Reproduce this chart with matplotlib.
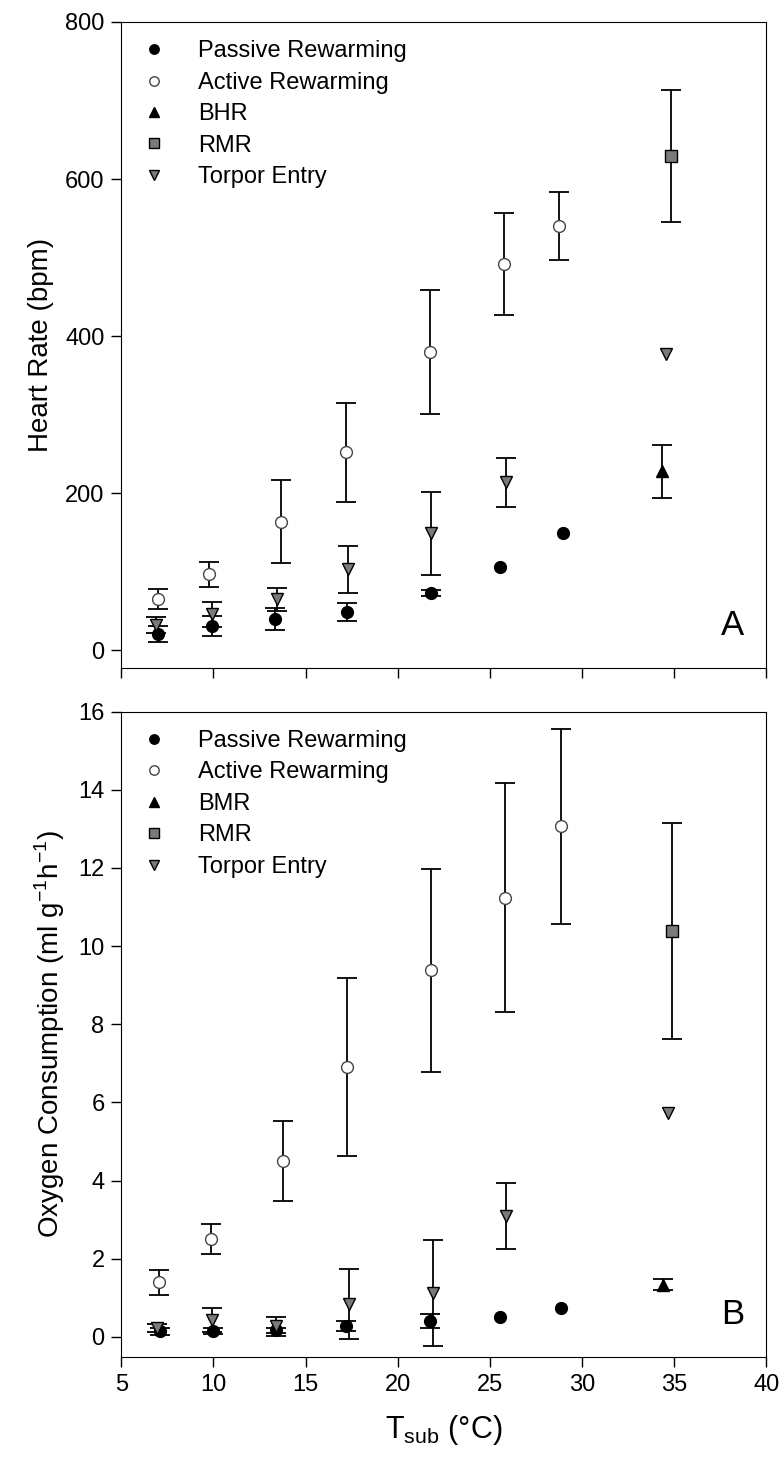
import matplotlib
matplotlib.use("Agg")
import matplotlib.pyplot as plt

plt.rcParams['font.family'] = ['Liberation Sans', 'DejaVu Sans']

# ── panel A: heart rate (bpm) ────────────────────────────────────────────────
hr_passive_x = [7.0, 9.95, 13.36, 17.23, 21.8, 25.57, 28.96]
hr_passive_y = [21, 31, 40, 49, 73.5, 106.6, 150]
hr_passive_e = [10, 13, 14, 11, 4, 0, 0]

hr_active_x = [7.0, 9.78, 13.67, 17.18, 21.73, 25.76, 28.75]
hr_active_y = [65, 97, 164, 252, 380, 492, 540]
hr_active_e = [12.7, 16, 53, 63, 79, 65, 43]

hr_bhr_x, hr_bhr_y, hr_bhr_e = [34.33], [228], [34]
hr_rmr_x, hr_rmr_y, hr_rmr_e = [34.8], [629], [84]

hr_torpor_x = [6.88, 9.95, 13.44, 17.3, 21.8, 25.85, 34.57]
hr_torpor_y = [32, 46, 65, 103, 149, 214, 377]
hr_torpor_e = [10, 16, 15, 30, 53, 31, 0]

# ── panel B: oxygen consumption (ml g-1 h-1) ─────────────────────────────────
vo_passive_x = [7.08, 10.0, 13.4, 17.2, 21.76, 25.55, 28.88]
vo_passive_y = [0.14, 0.15, 0.17, 0.28, 0.41, 0.52, 0.75]
vo_passive_e = [0.08, 0.07, 0.07, 0.12, 0.17, 0, 0]

vo_active_x = [7.07, 9.88, 13.77, 17.25, 21.8, 25.8, 28.85]
vo_active_y = [1.40, 2.50, 4.50, 6.90, 9.38, 11.23, 13.06]
vo_active_e = [0.32, 0.38, 1.03, 2.27, 2.60, 2.93, 2.50]

vo_bmr_x, vo_bmr_y, vo_bmr_e = [34.4], [1.34], [0.15]
vo_rmr_x, vo_rmr_y, vo_rmr_e = [34.9], [10.38], [2.76]

vo_torpor_x = [6.95, 9.9, 13.4, 17.37, 21.9, 25.9, 34.64]
vo_torpor_y = [0.22, 0.43, 0.27, 0.85, 1.12, 3.10, 5.74]
vo_torpor_e = [0.10, 0.30, 0.24, 0.90, 1.35, 0.85, 0]

x_ticks = [5, 10, 15, 20, 25, 30, 35, 40]
GRAY = "#7a7a7a"
FS = 17


def errs(ax, x, y, e):
    # points without a measured SD get no bar at all
    keep = [i for i, v in enumerate(e) if v > 0]
    if not keep:
        return
    ax.errorbar([x[i] for i in keep], [y[i] for i in keep],
                yerr=[e[i] for i in keep], fmt="none", ecolor="black",
                elinewidth=1.3, capsize=7, capthick=1.3, zorder=2)


def panel(ax, series, ylim, yticks, ylabel, letter):
    for (x, y, e, marker, face, label) in series:
        errs(ax, x, y, e)
        ax.plot(x, y, linestyle="none", marker=marker, markersize=8.5,
                markerfacecolor=face,
                markeredgecolor="black" if face != "white" else "#444444",
                markeredgewidth=1.0, label=label, zorder=3)
    ax.set_xlim(5, 40)
    ax.set_ylim(*ylim)
    ax.set_xticks(x_ticks)
    ax.set_yticks(yticks)
    ax.tick_params(direction="out", length=7, width=1, labelsize=FS, pad=5)
    ax.set_ylabel(ylabel, fontsize=20, labelpad=8)
    ax.legend(loc="upper left", bbox_to_anchor=(0.018, 0.986), frameon=False,
              fontsize=FS, handlelength=1.0, handletextpad=1.35,
              labelspacing=0.4, borderaxespad=0, markerscale=0.8)
    ax.text(0.965, 0.04, letter, transform=ax.transAxes, ha="right",
            va="bottom", fontsize=25)


fig = plt.figure(figsize=(7.82, 14.61), dpi=100)
ax_a = fig.add_axes([0.155, 0.543, 0.825, 0.442])
ax_b = fig.add_axes([0.155, 0.071, 0.825, 0.442])

panel(ax_a, [
    (hr_passive_x, hr_passive_y, hr_passive_e, "o", "black", "Passive Rewarming"),
    (hr_active_x, hr_active_y, hr_active_e, "o", "white", "Active Rewarming"),
    (hr_bhr_x, hr_bhr_y, hr_bhr_e, "^", "black", "BHR"),
    (hr_rmr_x, hr_rmr_y, hr_rmr_e, "s", GRAY, "RMR"),
    (hr_torpor_x, hr_torpor_y, hr_torpor_e, "v", GRAY, "Torpor Entry"),
], (-22, 800), [0, 200, 400, 600, 800], "Heart Rate (bpm)", "A")
ax_a.set_xticklabels([])

panel(ax_b, [
    (vo_passive_x, vo_passive_y, vo_passive_e, "o", "black", "Passive Rewarming"),
    (vo_active_x, vo_active_y, vo_active_e, "o", "white", "Active Rewarming"),
    (vo_bmr_x, vo_bmr_y, vo_bmr_e, "^", "black", "BMR"),
    (vo_rmr_x, vo_rmr_y, vo_rmr_e, "s", GRAY, "RMR"),
    (vo_torpor_x, vo_torpor_y, vo_torpor_e, "v", GRAY, "Torpor Entry"),
], (-0.52, 16), [0, 2, 4, 6, 8, 10, 12, 14, 16],
    r"Oxygen Consumption (ml g$^{\mathregular{-1}}$h$^{\mathregular{-1}}$)", "B")
ax_b.set_xlabel(r"T$_{\mathregular{sub}}$ ($\mathregular{\degree}$C)",
                fontsize=22, labelpad=12)

fig.savefig("out.png", dpi=100)
